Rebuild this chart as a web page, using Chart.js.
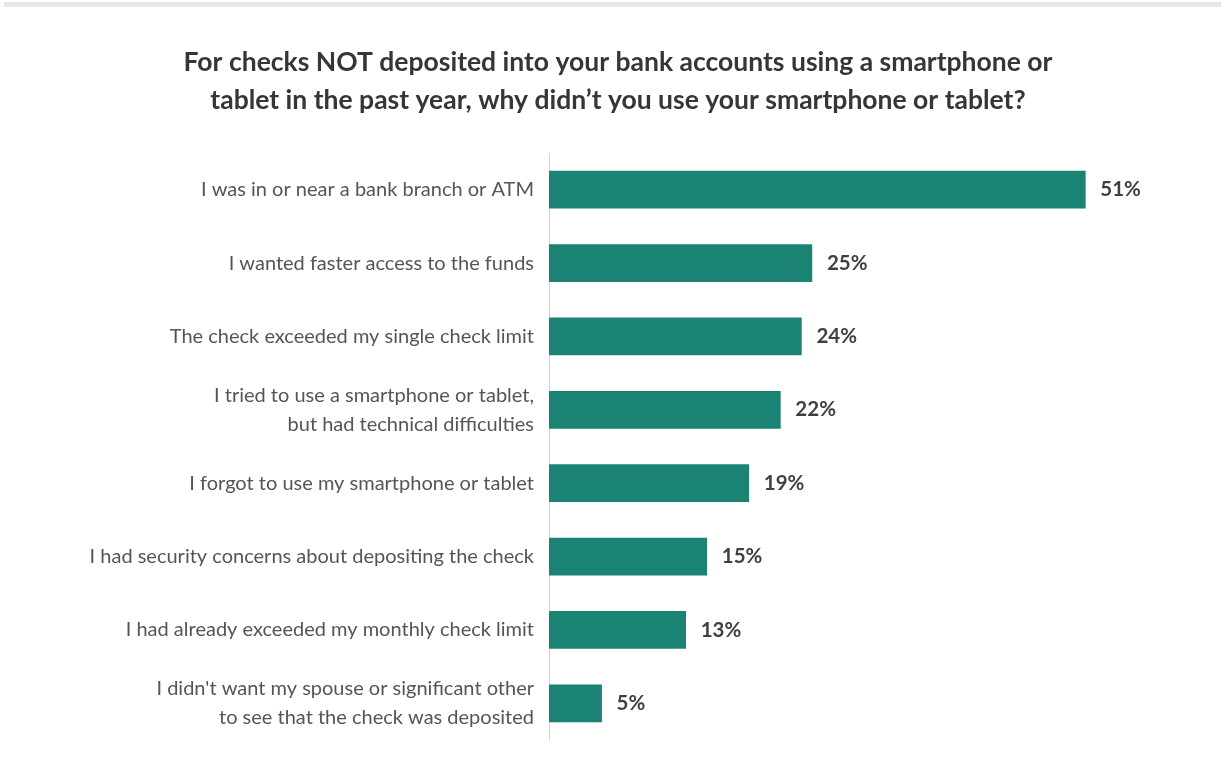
<!DOCTYPE html>
<html>
<head>
<meta charset="utf-8">
<script src="https://cdn.jsdelivr.net/npm/chart.js@4/dist/chart.umd.min.js"></script>
<style>
    html, body { margin: 0; padding: 0; background: #fff; }
    #wrap { position: relative; width: 1221px; height: 782px; }
    #topbar { position: absolute; left: 4px; top: 2px; width: 1217px; height: 5px; background: #e6e6e6; }
    canvas { position: absolute; left: 0; top: 0; }
</style>
</head>
<body>
<div id="wrap">
    <div id="topbar"></div>
    <canvas id="reasonsChart" width="1221" height="782"></canvas>
</div>
<script>
const titleLines = [
    'For checks NOT deposited into your bank accounts using a smartphone or',
    'tablet in the past year, why didn\u2019t you use your smartphone or tablet?'
];

const reasons = [
    'I was in or near a bank branch or ATM',
    'I wanted faster access to the funds',
    'The check exceeded my single check limit',
    ['I tried to use a smartphone or tablet,', 'but had technical difficulties'],
    'I forgot to use my smartphone or tablet',
    'I had security concerns about depositing the check',
    'I had already exceeded my monthly check limit',
    ["I didn't want my spouse or significant other", 'to see that the check was deposited']
];

const shares = [51, 25, 24, 22, 19, 15, 13, 5];

const barColor = '#1b8373';

// writes the percentage just past the end of each bar
const valueLabels = {
    id: 'valueLabels',
    afterDatasetsDraw(chart) {
        const ctx = chart.ctx;
        const meta = chart.getDatasetMeta(0);
        ctx.save();
        ctx.font = 'bold 20.5px Lato';
        ctx.fillStyle = '#404040';
        ctx.textAlign = 'left';
        ctx.textBaseline = 'middle';
        meta.data.forEach((bar, i) => {
            ctx.fillText(shares[i] + '%', bar.x + 15, bar.y);
        });
        ctx.restore();
    }
};

const ctx = document.getElementById('reasonsChart').getContext('2d');

const reasonsChart = new Chart(ctx, {
    type: 'bar',
    data: {
        labels: reasons,
        datasets: [{
            data: shares,
            backgroundColor: barColor,
            borderWidth: 0,
            barThickness: 37
        }]
    },
    options: {
        indexAxis: 'y',
        responsive: false,
        animation: false,
        layout: {
            padding: { left: 35, right: 20, top: 0, bottom: 42 }
        },
        plugins: {
            legend: { display: false },
            tooltip: { enabled: false },
            title: {
                display: true,
                text: titleLines,
                color: '#363636',
                font: { family: 'Lato', size: 26.5, weight: 'bold', lineHeight: 1.434 },
                padding: { top: 43, bottom: 34 }
            }
        },
        scales: {
            x: {
                display: false,
                min: 0,
                max: 62
            },
            y: {
                afterFit(scale) { scale.width = 514; },
                grid: { display: false, drawTicks: false },
                border: { display: true, color: '#d4d4d4', width: 1 },
                ticks: {
                    color: '#555555',
                    padding: 15,
                    font: { family: 'Lato', size: 20, lineHeight: 1.45 }
                }
            }
        }
    },
    plugins: [valueLabels]
});
</script>
</body>
</html>
